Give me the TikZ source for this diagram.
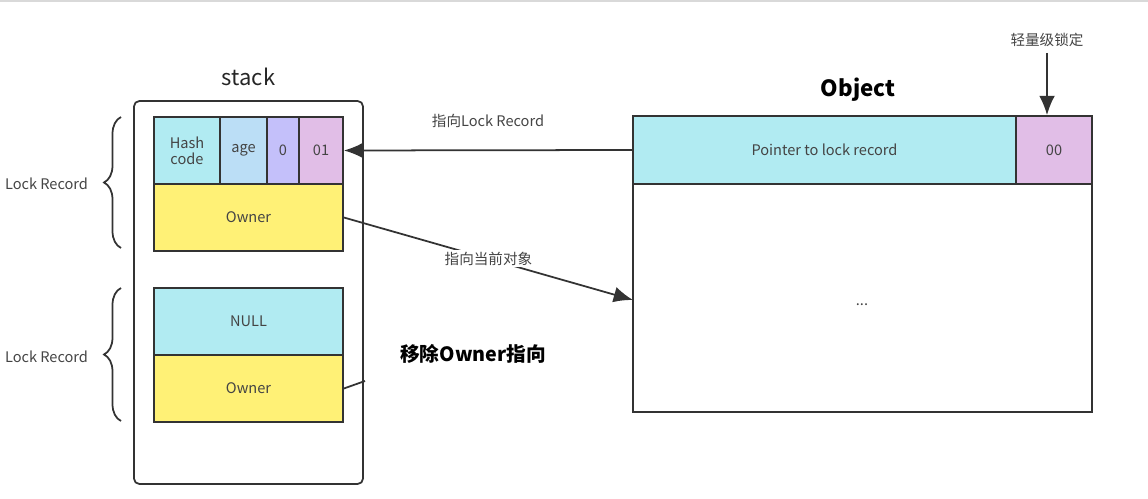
\documentclass[tikz,border=0pt]{standalone}
\usepackage{fontspec}
\setmainfont{Noto Sans CJK SC}
\usetikzlibrary{arrows.meta,decorations.pathreplacing}
\definecolor{trait}{HTML}{333333}
\definecolor{cyanc}{HTML}{B1EBF2}
\definecolor{bleuc}{HTML}{BBDEF6}
\definecolor{mauve}{HTML}{C4C0FA}
\definecolor{rose}{HTML}{E1BEE7}
\definecolor{jaune}{HTML}{FFF176}
\definecolor{texte}{HTML}{444444}
\tikzset{
  champ/.style={draw=trait, line width=1pt, text=texte, align=center, inner sep=0pt,
    font=\fontsize{8.3}{9.3}\selectfont},
  fleche/.style={draw=trait, line width=1pt, -{Latex[length=11pt,width=9pt]}},
  legende/.style={text=texte, font=\fontsize{8.3}{9.5}\selectfont},
}
\begin{document}
\begin{tikzpicture}[x=0.02cm,y=-0.02cm]
\useasboundingbox (0,0) rectangle (1148,499);
% Bord haut
\draw[color=gray!30, line width=0.8pt] (0,1) -- (1148,1);

% Pile
\node[draw=trait, line width=1pt, rounded corners=3pt, minimum width=4.58cm, minimum height=7.66cm] (pile) at (248.5,292.5) {};
\node[font=\fontsize{12.5}{14}\selectfont, text=black!85] (titrepile) at (248.5,77) {stack};

% Premier Lock Record
\node[champ, fill=cyanc, minimum width=1.32cm, minimum height=1.34cm] (hash) at (187,150.5) {Hash\\code};
\node[champ, fill=bleuc, minimum width=0.94cm, minimum height=1.34cm] (age) at (243.5,150.5) {age};
\node[champ, fill=mauve, minimum width=0.64cm, minimum height=1.34cm] (zero) at (283,150.5) {0};
\node[champ, fill=rose, minimum width=0.88cm, minimum height=1.34cm] (zu) at (321,150.5) {01};
\node[champ, fill=jaune, minimum width=3.78cm, minimum height=1.34cm] (own1) at (248.5,217.5) {Owner};

% Second Lock Record
\node[champ, fill=cyanc, minimum width=3.78cm, minimum height=1.34cm] (null) at (248.5,321.5) {NULL};
\node[champ, fill=jaune, minimum width=3.78cm, minimum height=1.34cm] (own2) at (248.5,388.5) {Owner};

% Accolades
\draw[trait, line width=1pt, decorate, decoration={brace, amplitude=0.34cm}] (121,248) -- (121,117);
\draw[trait, line width=1pt, decorate, decoration={brace, amplitude=0.34cm}] (121,421) -- (121,288);
\node[legende] (lr1) at (46.5,184) {Lock Record};
\node[legende] (lr2) at (46.5,357) {Lock Record};

% Objet
\node[font=\bfseries\fontsize{12.7}{14}\selectfont] (titreobj) at (858,90) {Object};
\node[champ, minimum width=9.18cm, minimum height=5.92cm] (corps) at (862.5,264) {};
\node[champ, fill=cyanc, minimum width=7.66cm, minimum height=1.36cm] (ptr) at (824.5,150) {Pointer to lock record};
\node[champ, fill=rose, minimum width=1.52cm, minimum height=1.36cm] (oo) at (1054,150) {00};
\node[legende] (pts) at (862,305) {...};

% Fleches
\coordinate (cible) at (633,300);
\coordinate (bout) at (365,381);
\draw[fleche] (ptr.west) -- (zu.east) node[legende, midway, above=0.32cm] (lbl1) {指向Lock Record};
\draw[fleche] (own1.east) -- (cible) node[legende, pos=0.5, fill=white, inner sep=1pt] (lbl2) {指向当前对象};
\draw[trait, line width=1pt] (own2.east) -- (bout);
\node[legende] (leger) at (1047,40) {轻量级锁定};
\draw[fleche] (leger.south) -- (leger.south |- oo.north);

% Remarque
\node[font=\bfseries\fontsize{11.2}{13}\selectfont] (retrait) at (473,354) {移除Owner指向};
\end{tikzpicture}
\end{document}
